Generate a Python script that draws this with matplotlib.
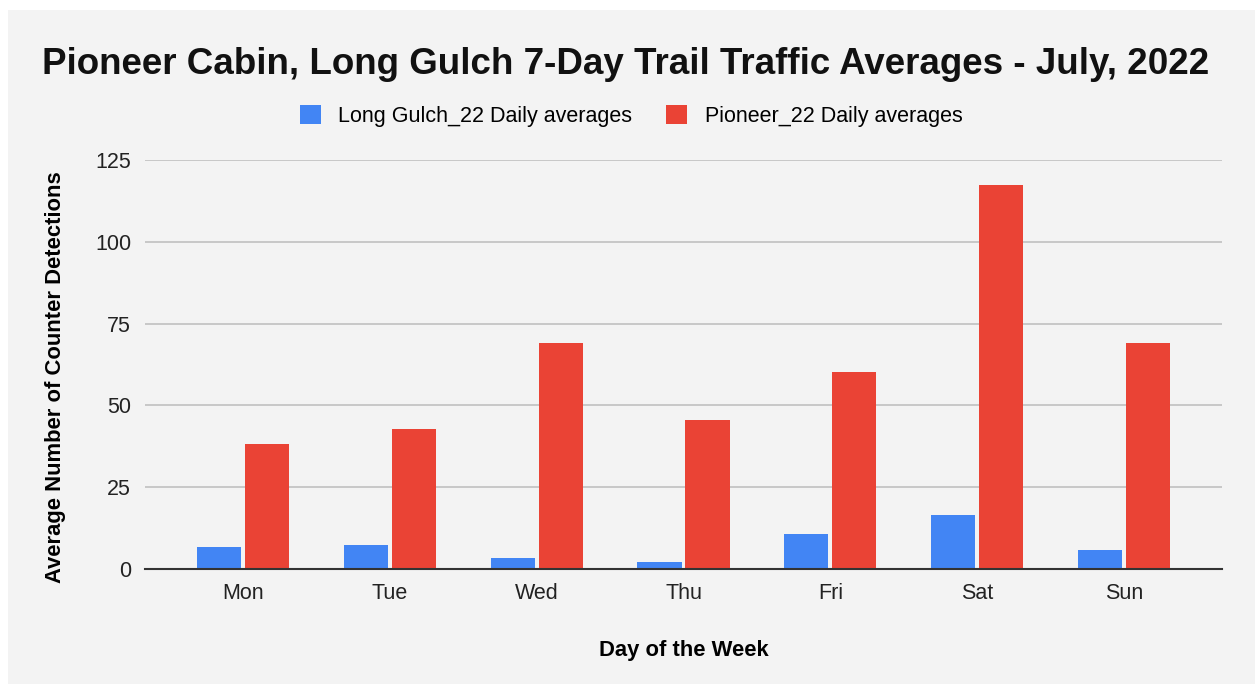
import matplotlib.pyplot as plt
import numpy as np
from matplotlib.patches import Rectangle

days = ["Mon", "Tue", "Wed", "Thu", "Fri", "Sat", "Sun"]
long_gulch = [6.7, 7.3, 3.4, 2.1, 10.7, 16.4, 5.8]
pioneer = [38.2, 42.8, 69.1, 45.5, 60.2, 117.4, 69.2]
yticks = [0, 25, 50, 75, 100, 125]

plt.rcParams['font.family'] = ['Liberation Sans', 'DejaVu Sans']

W, H = 1255, 684
fig = plt.figure(figsize=(W / 100, H / 100), dpi=100, facecolor="#f3f3f3")
# white strips along the top and left edge
fig.patches.append(Rectangle((0, 1 - 10 / H), 1, 10 / H, transform=fig.transFigure,
                             facecolor="white", edgecolor="none"))
fig.patches.append(Rectangle((0, 0), 8 / W, 1, transform=fig.transFigure,
                             facecolor="white", edgecolor="none"))

ax = fig.add_axes([145 / W, 1 - 569 / H, (1222 - 145) / W, (569 - 160) / H])
ax.set_facecolor("#f3f3f3")

x = np.arange(len(days))
bw = 0.30
gap = 0.027
ax.bar(x - bw / 2 - gap / 2, long_gulch, bw, color="#4285f4", label="Long Gulch_22 Daily averages", zorder=3)
ax.bar(x + bw / 2 + gap / 2, pioneer, bw, color="#ea4335", label="Pioneer_22 Daily averages", zorder=3)

ax.set_xlim(-0.667, 6.667)
ax.set_ylim(0, 125)
ax.set_yticks(yticks)
ax.set_xticks(x)
ax.set_xticklabels(days)
ax.tick_params(axis="both", length=0, labelsize=15.5, colors="#222222")
ax.tick_params(axis="x", pad=10)
ax.tick_params(axis="y", pad=10)
ax.grid(axis="y", color="#c4c4c4", linewidth=1.3, zorder=0)
for s in ["top", "right", "left"]:
    ax.spines[s].set_visible(False)
ax.spines["bottom"].set_color("#333333")
ax.spines["bottom"].set_linewidth(1.5)
ax.spines["bottom"].set_zorder(4)

ax.set_xlabel("Day of the Week", fontsize=15.8, fontweight="bold", labelpad=26)
ax.set_ylabel("Average Number of Counter Detections", fontsize=15.8, fontweight="bold")
ax.yaxis.set_label_coords(-0.0737, 0.469)

fig.text(626 / W, 1 - 64 / H, "Pioneer Cabin, Long Gulch 7-Day Trail Traffic Averages - July, 2022",
         ha="center", va="center", fontsize=26.5, fontweight="bold", color="#111111")

fig.legend(loc="center", bbox_to_anchor=(631 / W, 1 - 116 / H), ncol=2, frameon=False,
           fontsize=15.5, handlelength=1.0, handleheight=1.0, columnspacing=1.55, handletextpad=0.8)

fig.savefig("out.png", dpi=100, facecolor=fig.get_facecolor())
